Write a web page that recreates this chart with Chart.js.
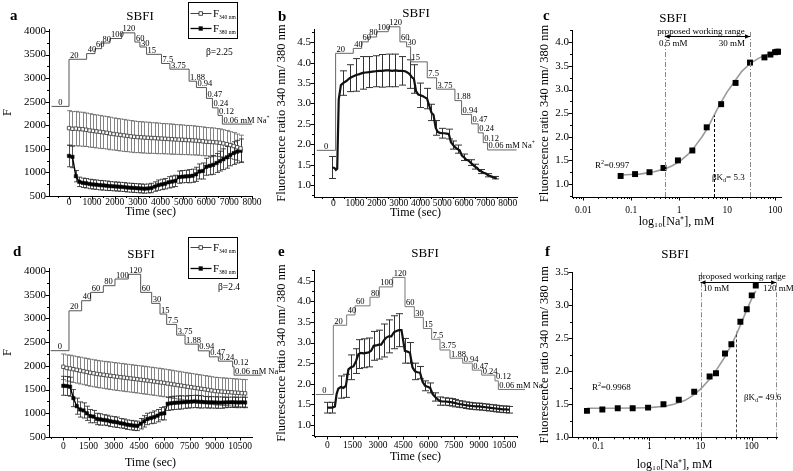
<!DOCTYPE html>
<html><head><meta charset="utf-8">
<script src="https://cdn.jsdelivr.net/npm/chart.js@4.4.1/dist/chart.umd.min.js"></script>
<style>
html,body{margin:0;padding:0;background:#fff;}
body{width:793px;height:471px;overflow:hidden;position:relative;}
canvas{position:absolute;}
.t{position:absolute;font-family:'Liberation Serif','Times New Roman',serif;color:#000;white-space:nowrap;line-height:1;}
.let{font-weight:bold;font-size:15px;}
.sb{font-size:13px;transform:translateX(-50%);}
</style></head><body>
<canvas id="cA"></canvas><canvas id="cB"></canvas><canvas id="cC"></canvas>
<canvas id="cD"></canvas><canvas id="cE"></canvas><canvas id="cF"></canvas>
<div class="t let" style="left:10px;top:8.4px">a</div>
<div class="t let" style="left:278px;top:9.4px">b</div>
<div class="t let" style="left:543px;top:8.4px">c</div>
<div class="t let" style="left:13px;top:244.4px">d</div>
<div class="t let" style="left:278px;top:244.4px">e</div>
<div class="t let" style="left:545px;top:244.4px">f</div>
<div class="t sb" style="left:140px;top:9.1px">SBFI</div>
<div class="t sb" style="left:416px;top:6.1px">SBFI</div>
<div class="t sb" style="left:673px;top:11.1px">SBFI</div>
<div class="t sb" style="left:141px;top:247.1px">SBFI</div>
<div class="t sb" style="left:425px;top:246.1px">SBFI</div>
<div class="t sb" style="left:675px;top:247.1px">SBFI</div>
<script>
// ---------------- DATA ----------------
const stepLabels = ['0','20','40','60','80','100','120','60','30','15','7.5','3.75','1.88','0.94','0.47','0.24','0.12','0.06 mM Na'];

// panel a
const xTicksA = [0,1000,2000,3000,4000,5000,6000,7000,8000];
const yTicksA = [500,1000,1500,2000,2500,3000,3500,4000];
const stepXA = [-760,0,770,1135,1425,1790,2300,2880,3100,3390,4045,4410,5250,5570,6010,6270,6515,6705,8000];
const stepYA = [2400,3400,3520,3625,3745,3840,3960,3765,3660,3505,3310,3190,2935,2800,2570,2370,2210,2025,2025];
const tA = [0,150,300,450,600,750,900,1050,1200,1350,1500,1650,1800,1950,2100,2250,2400,2550,2700,2850,3000,3150,3300,3450,3600,3750,3900,4050,4200,4350,4500,4650,4800,4950,5100,5250,5400,5550,5700,5850,6000,6150,6300,6450,6600,6750,6900,7050,7200,7350,7500];
const f340A = [1940,1925,1930,1920,1915,1905,1890,1880,1870,1860,1850,1840,1825,1815,1805,1795,1785,1775,1765,1755,1750,1745,1740,1735,1730,1728,1722,1718,1714,1710,1705,1700,1697,1693,1688,1684,1680,1675,1668,1660,1652,1648,1643,1637,1628,1615,1600,1580,1560,1535,1510];
const err340A = [370,365,365,360,360,355,355,350,350,350,345,345,345,340,340,340,340,335,335,335,330,330,330,330,325,325,325,320,320,320,320,315,315,315,310,310,310,305,305,305,300,300,300,295,295,290,290,285,285,280,280];
const f380A = [1350,1330,920,800,780,770,755,745,740,730,725,718,710,705,700,695,690,680,675,670,665,660,655,660,670,700,730,745,760,790,805,820,900,910,915,920,930,960,1020,1030,1120,1140,1160,1200,1240,1280,1320,1370,1410,1440,1460];
const err380A = [230,230,120,100,100,100,100,100,100,100,100,100,95,95,95,95,95,95,95,95,95,95,95,95,100,100,110,110,110,120,120,120,130,130,130,140,140,150,160,170,180,190,200,200,210,220,230,230,240,240,250];

// panel b
const xTicksB = [0,1000,2000,3000,4000,5000,6000,7000,8000];
const yTicksB = [1.0,1.5,2.0,2.5,3.0,3.5,4.0,4.5];
const stepXB = [-760,107,917,1300,1606,1988,2523,3058,3364,3547,4312,4740,5581,5887,6346,6651,6881,7080,8410];
const stepYB = [1.85,4.23,4.35,4.51,4.63,4.76,4.88,4.51,4.39,4.02,3.63,3.35,3.07,2.73,2.50,2.28,2.04,1.86,1.86];
const tB = [-50,50,120,180,250,350,450,600,750,900,1050,1200,1350,1500,1650,1800,1950,2100,2250,2400,2550,2700,2850,3000,3150,3300,3400,3500,3600,3700,3800,3900,4000,4100,4200,4300,4400,4500,4600,4700,4800,4900,5000,5100,5200,5300,5400,5500,5600,5700,5800,5900,6000,6100,6200,6300,6400,6500,6600,6700,6800,6900,7000,7100,7200,7300,7400,7500];
const rB = [1.43,1.42,1.37,1.40,3.10,3.45,3.50,3.55,3.62,3.66,3.70,3.72,3.75,3.76,3.77,3.78,3.79,3.80,3.80,3.81,3.81,3.80,3.81,3.80,3.80,3.79,3.76,3.72,3.65,3.60,3.30,3.22,3.20,3.18,3.15,3.12,2.95,2.78,2.72,2.40,2.30,2.28,2.27,2.27,2.26,2.25,2.05,1.98,1.92,1.88,1.85,1.72,1.68,1.62,1.60,1.55,1.50,1.45,1.42,1.35,1.33,1.30,1.28,1.24,1.22,1.20,1.18,1.16];
const errB = [0.27,null,null,null,null,null,0.30,null,0.33,null,0.40,null,0.40,null,0.38,null,0.38,null,0.40,null,0.40,null,0.40,null,0.35,null,null,0.35,null,0.35,null,null,0.30,null,null,0.25,null,0.20,null,0.18,null,null,0.12,null,null,0.12,null,0.10,null,0.10,null,null,0.08,null,null,0.07,null,0.06,null,null,0.05,null,null,0.04,null,null,0.03,null];

// panel c
const xTicksC = [0.01,0.1,1,10,100];
const yTicksC = [1.0,1.5,2.0,2.5,3.0,3.5,4.0];
const naC = [0.06,0.12,0.24,0.47,0.94,1.88,3.75,7.5,15,30,60,80,100,110,120];
const ratioC = [1.17,1.21,1.25,1.34,1.50,1.71,2.20,2.69,3.14,3.57,3.68,3.74,3.79,3.80,3.80];
const fitXC = [0.06,0.1,0.15,0.2,0.3,0.5,0.7,1,1.5,2,3,4,5.3,7,10,15,20,30,45,60,80,100,130];
const fitYC = [1.19,1.20,1.21,1.23,1.26,1.32,1.38,1.47,1.62,1.76,2.00,2.20,2.45,2.68,2.95,3.20,3.38,3.55,3.66,3.72,3.76,3.78,3.80];
const rangeC = [0.5,30];
const kdC = 5.3, kdYC = 2.45;

// panel d
const xTicksD = [0,1500,3000,4500,6000,7500,9000,10500];
const yTicksD = [500,1000,1500,2000,2500,3000,3500,4000];
const stepXD = [-750,337,1090,1624,2377,3070,3863,4596,5250,5745,6141,6735,7232,8023,8677,9212,10060,10145,11790];
const stepYD = [2320,3161,3373,3549,3690,3831,3930,3549,3317,3092,2874,2648,2458,2317,2190,2099,1979,1803,1803];
const tD = [0,200,400,600,800,1000,1200,1400,1600,1800,2000,2200,2400,2600,2800,3000,3200,3400,3600,3800,4000,4200,4400,4600,4800,5000,5200,5400,5600,5800,6000,6200,6400,6600,6800,7000,7200,7400,7600,7800,8000,8200,8400,8600,8800,9000,9200,9400,9600,9800,10000,10200,10400,10600,10800];
const f340D = [1980,1955,1945,1930,1915,1900,1885,1870,1855,1843,1830,1820,1810,1800,1790,1780,1771,1762,1753,1744,1735,1726,1717,1708,1699,1690,1680,1670,1660,1650,1640,1628,1617,1605,1594,1583,1572,1560,1549,1538,1527,1516,1505,1494,1482,1470,1464,1458,1452,1447,1442,1436,1431,1425,1420];
const err340D = [270,275,280,280,280,282,282,285,285,285,285,285,285,288,290,290,290,290,290,290,290,290,290,292,292,292,292,292,292,292,292,292,292,292,292,290,290,290,290,290,290,290,290,290,290,290,290,290,290,290,290,290,290,290,290];
const f380D = [1580,1575,1560,1320,1150,1080,1060,1000,940,930,880,870,860,850,830,820,810,790,780,760,750,740,735,780,830,880,900,920,950,990,1000,1200,1210,1220,1225,1230,1235,1240,1245,1250,1245,1240,1235,1230,1230,1228,1225,1225,1228,1230,1232,1230,1228,1230,1228];
const err380D = [200,200,200,180,170,160,160,150,140,130,120,120,110,110,110,110,110,100,100,100,100,100,100,110,120,120,120,130,130,130,140,140,140,140,140,140,130,130,130,130,130,130,120,120,120,120,120,120,110,110,110,110,110,110,110];

// panel e
const xTicksE = [0,1500,3000,4500,6000,7500,9000,10500];
const yTicksE = [1.0,1.5,2.0,2.5,3.0,3.5,4.0,4.5];
const stepXE = [-692,356,1147,1641,2531,3085,3876,4607,5161,5695,6189,6684,7277,8028,8601,9155,9946,10144,11726];
const stepYE = [1.74,3.42,3.67,3.89,4.10,4.35,4.58,3.87,3.61,3.34,3.08,2.82,2.62,2.50,2.33,2.21,2.07,1.86,1.86];
const tE = [0,150,300,450,550,650,800,950,1100,1250,1400,1550,1700,1850,2000,2150,2300,2450,2600,2750,2900,3050,3200,3350,3500,3650,3800,3950,4100,4250,4400,4500,4600,4750,4900,5050,5200,5350,5500,5650,5800,5950,6100,6250,6400,6550,6700,6850,7000,7200,7400,7600,7800,8000,8200,8400,8600,8800,9000,9200,9400,9600,9800,10000,10200,10400,10600,10800];
const rE = [1.42,1.42,1.42,1.45,1.75,1.88,1.92,1.90,1.95,2.35,2.40,2.42,2.55,2.72,2.75,2.74,2.75,2.76,2.80,2.92,2.93,2.95,2.95,3.05,3.12,3.15,3.15,3.25,3.28,3.30,3.30,3.05,2.80,2.78,2.75,2.40,2.30,2.28,2.27,2.05,1.95,1.93,1.90,1.75,1.68,1.62,1.58,1.57,1.57,1.56,1.55,1.53,1.51,1.50,1.48,1.47,1.46,1.45,1.45,1.44,1.43,1.42,1.41,1.40,1.39,1.38,1.38,1.37];
const errE = [0.13,null,0.13,null,null,null,0.27,null,0.28,null,0.30,null,0.30,0.35,null,0.35,null,0.35,null,0.35,null,0.35,null,0.40,null,0.40,null,0.40,null,0.40,null,null,0.30,null,0.25,null,0.20,null,0.15,null,0.12,null,0.12,null,0.10,null,0.10,null,0.09,0.09,0.09,0.09,0.08,0.08,0.08,0.08,0.08,0.08,0.08,0.08,0.08,0.08,0.08,0.08,0.08,0.08,0.08,0.08];

// panel f
const xTicksF = [0.1,1,10,100];
const yTicksF = [1.0,1.5,2.0,2.5,3.0,3.5];
const naF = [0.06,0.12,0.24,0.47,0.94,1.88,3.75,7.5,15,20,30,40,60,80,100,120];
const ratioF = [1.40,1.42,1.44,1.44,1.45,1.50,1.57,1.69,1.92,1.97,2.27,2.41,2.75,2.94,3.15,3.30];
const fitXF = [0.06,0.1,0.2,0.5,1,2,3,5,7,10,15,20,30,40,49.6,60,80,100,120];
const fitYF = [1.44,1.44,1.44,1.445,1.45,1.47,1.50,1.56,1.63,1.73,1.88,2.01,2.22,2.40,2.55,2.70,2.93,3.10,3.22];
const rangeF = [10,300];
const kdF = 49.6, kdYF = 2.6;

// ---------------- RENDERING ----------------
const FF = "'Liberation Serif','Times New Roman',serif";
const XTICK = 9.5, YTICK = 11, XTITLE = 12, YTITLE = 12.5;
const pts = (xs, ys) => xs.map((x, i) => ({x, y: ys[i]}));

function drawRich(ctx, x, y, parts, base, align) {
  let w = 0;
  for (const p of parts) { ctx.font = (p.size || base) + 'px ' + FF; w += ctx.measureText(p.t).width; }
  let cx = align === 'center' ? x - w / 2 : align === 'right' ? x - w : x;
  ctx.textAlign = 'left'; ctx.textBaseline = 'alphabetic';
  for (const p of parts) {
    ctx.font = (p.size || base) + 'px ' + FF;
    ctx.fillText(p.t, cx, y + (p.dy || 0));
    cx += ctx.measureText(p.t).width;
  }
}

const errBars = {
  id: 'errBars',
  beforeDatasetsDraw(chart) {
    const ctx = chart.ctx, xs = chart.scales.x, ys = chart.scales.y;
    chart.data.datasets.forEach(ds => {
      if (!ds.errors) return;
      ctx.save(); ctx.strokeStyle = ds.errColor || '#000'; ctx.lineWidth = ds.errWidth || 1;
      ds.data.forEach((p, i) => {
        const e = ds.errors[i]; if (e == null) return;
        const x = Math.round(xs.getPixelForValue(p.x)) + 0.5;
        const y1 = ys.getPixelForValue(p.y + e), y2 = ys.getPixelForValue(p.y - e), c = ds.errCap || 3;
        ctx.beginPath();
        ctx.moveTo(x, y1); ctx.lineTo(x, y2);
        ctx.moveTo(x - c, y1); ctx.lineTo(x + c, y1);
        ctx.moveTo(x - c, y2); ctx.lineTo(x + c, y2);
        ctx.stroke();
      });
      ctx.restore();
    });
  }
};

const stepLbl = {
  id: 'stepLbl',
  afterDatasetsDraw(chart) {
    const ctx = chart.ctx, xs = chart.scales.x, ys = chart.scales.y;
    chart.data.datasets.forEach(ds => {
      if (!ds.stepLabels) return;
      ctx.save(); ctx.fillStyle = '#000';
      const n = ds.stepLabels.length;
      ds.stepLabels.forEach((lab, i) => {
        const x0 = xs.getPixelForValue(ds.data[i].x), x1 = xs.getPixelForValue(ds.data[i + 1].x);
        const y = ys.getPixelForValue(ds.data[i].y) - 1.5;
        if (i === 0) drawRich(ctx, (x0 + x1) / 2, y, [{t: lab}], 8.5, 'center');
        else if (i === n - 1) drawRich(ctx, x0 + 1, y, [{t: lab}, {t: '+', size: 5.5, dy: -4}], 8.5, 'left');
        else drawRich(ctx, x0 + 1, y, [{t: lab}], 8.5, 'left');
      });
      ctx.restore();
    });
  }
};

function minorValues(s) {
  const vals = s.ticks.map(t => t.value), out = [];
  if (s.type === 'logarithmic') {
    for (let d = Math.floor(Math.log10(s.min)); d <= Math.ceil(Math.log10(s.max)); d++)
      for (let k = 2; k <= 9; k++) { const v = k * Math.pow(10, d); if (v >= s.min && v <= s.max) out.push(v); }
  } else {
    const step = vals[1] - vals[0];
    for (let v = vals[0] - step / 2; v <= s.max; v += step) if (v >= s.min) out.push(v);
  }
  return out;
}

const tickMarks = {
  id: 'tickMarks',
  afterDraw(chart) {
    const ctx = chart.ctx, ca = chart.chartArea, xs = chart.scales.x, ys = chart.scales.y;
    ctx.save(); ctx.strokeStyle = '#000'; ctx.lineWidth = 1;
    const dx = (v, len) => { const p = Math.round(xs.getPixelForValue(v)) + 0.5; ctx.beginPath(); ctx.moveTo(p, ca.bottom); ctx.lineTo(p, ca.bottom + len); ctx.stroke(); };
    const dy = (v, len) => { const p = Math.round(ys.getPixelForValue(v)) + 0.5; ctx.beginPath(); ctx.moveTo(ca.left, p); ctx.lineTo(ca.left - len, p); ctx.stroke(); };
    xs.ticks.forEach(t => dx(t.value, 3.5)); minorValues(xs).forEach(v => dx(v, 2));
    ys.ticks.forEach(t => dy(t.value, 3.5)); minorValues(ys).forEach(v => dy(v, 2));
    ctx.restore();
  }
};

function makeAnnot(items, off) {
  return {
    id: 'annot',
    afterDatasetsDraw(chart) {
      const ctx = chart.ctx, xs = chart.scales.x, ys = chart.scales.y;
      const X = (it, v) => it.page ? v - off[0] : xs.getPixelForValue(v);
      const Y = (it, v) => it.page ? v - off[1] : ys.getPixelForValue(v);
      for (const it of items) {
        ctx.save();
        ctx.strokeStyle = it.color || '#000'; ctx.fillStyle = it.color || '#000'; ctx.lineWidth = it.width || 1;
        if (it.k === 'vline') {
          const x = Math.round(X(it, it.x)) + 0.5;
          ctx.setLineDash(it.dash || []);
          ctx.beginPath(); ctx.moveTo(x, Y(it, it.y0)); ctx.lineTo(x, Y(it, it.y1)); ctx.stroke();
        } else if (it.k === 'arrow') {
          const x0 = X(it, it.x0), x1 = X(it, it.x1), y = Math.round(Y(it, it.y)) + 0.5;
          ctx.beginPath(); ctx.moveTo(x0, y); ctx.lineTo(x1, y); ctx.stroke();
          ctx.beginPath(); ctx.moveTo(x0, y); ctx.lineTo(x0 + 5, y - 2.2); ctx.lineTo(x0 + 5, y + 2.2); ctx.closePath(); ctx.fill();
          ctx.beginPath(); ctx.moveTo(x1, y); ctx.lineTo(x1 - 5, y - 2.2); ctx.lineTo(x1 - 5, y + 2.2); ctx.closePath(); ctx.fill();
        } else if (it.k === 'text') {
          drawRich(ctx, X(it, it.x), Y(it, it.y), it.parts, it.size, it.align || 'left');
        } else if (it.k === 'legend') {
          const x = Math.round(X(it, it.x)) + 0.5, y = Math.round(Y(it, it.y)) + 0.5;
          ctx.strokeRect(x, y, it.w, it.h);
          for (const r of it.rows) {
            const ry = Math.round(Y(it, r.y)) + 0.5;
            ctx.strokeStyle = r.fill ? '#000' : '#444'; ctx.lineWidth = r.fill ? 1.3 : 1;
            ctx.beginPath(); ctx.moveTo(x + 2, ry); ctx.lineTo(x + 23, ry); ctx.stroke();
            ctx.fillStyle = r.fill ? '#000' : '#fff'; ctx.fillRect(x + 10.5, ry - 1.75, 3.5, 3.5);
            ctx.lineWidth = 0.8; ctx.strokeStyle = '#222'; ctx.strokeRect(x + 10.5, ry - 1.75, 3.5, 3.5);
            ctx.fillStyle = '#000';
            drawRich(ctx, x + 24.5, ry + 3.5, [{t: 'F', size: 11}, {t: r.sub, size: 5.5, dy: 2}], 11, 'left');
          }
        }
        ctx.restore();
      }
    }
  };
}

function makeChart(P) {
  const cv = document.getElementById(P.id);
  const [cx, cy, cw, ch] = P.canvas;
  cv.width = cw; cv.height = ch; cv.style.left = cx + 'px'; cv.style.top = cy + 'px';
  const [L, T, R, B] = P.plot;
  const ylh = YTITLE * 1.2, xlh = XTITLE * 1.2, klh = XTICK * 1.2;
  const YL = Math.max(cx, P.yTitleX - ylh / 2);
  const yW = L - YL;
  const xH = P.xTitleY + xlh / 2 - B;
  const pad = {left: YL - cx, top: T - cy, right: cx + cw - R, bottom: cy + ch - B - xH};
  const xPad = P.xLabY - B - klh / 2;
  const axis = (a, isX) => ({
    type: a.type || 'linear', bounds: 'data', min: a.min, max: a.max, position: isX ? 'bottom' : 'left',
    grid: {display: false, drawTicks: false},
    border: {display: true, color: '#000', width: 1},
    ticks: {autoSkip: false, maxRotation: 0, minRotation: 0, padding: isX ? xPad : P.yPad, color: '#000',
      font: {family: FF, size: isX ? XTICK : YTICK}, callback: v => a.fmt(v)},
    title: {display: true, text: a.title, color: '#000', font: {family: FF, size: isX ? XTITLE : YTITLE}, padding: 0},
    afterBuildTicks: s => { s.ticks = a.ticks.map(v => ({value: v})); },
    afterFit: s => { if (isX) s.height = xH; else s.width = yW; }
  });
  return new Chart(cv, {
    type: 'line',
    data: {datasets: P.datasets},
    options: {
      responsive: false, animation: false, devicePixelRatio: 1,
      layout: {padding: pad},
      plugins: {legend: {display: false}, tooltip: {enabled: false}},
      scales: {x: axis(P.x, true), y: axis(P.y, false)}
    },
    plugins: [errBars, stepLbl, tickMarks, makeAnnot(P.items || [], [cx, cy])]
  });
}

const intFmt = v => String(v);
const dec1 = v => v.toFixed(1);
const logFmt = v => String(v);

const stepDs = (xs, ys, color) => ({data: pts(xs, ys), stepped: 'before', borderColor: color, borderWidth: 1,
  pointRadius: 0, clip: false, stepLabels: stepLabels});
const f340Ds = (xs, ys, er) => ({data: pts(xs, ys), borderColor: '#444', borderWidth: 1, pointStyle: 'rect',
  pointRadius: 2.4, pointBackgroundColor: '#fff', pointBorderColor: '#333', pointBorderWidth: 0.8,
  errors: er, errColor: '#666', errCap: 2.5, errWidth: 0.8});
const f380Ds = (xs, ys, er) => ({data: pts(xs, ys), borderColor: '#000', borderWidth: 1.4, pointStyle: 'rect',
  pointRadius: 2.4, pointBackgroundColor: '#000', pointBorderColor: '#000', pointBorderWidth: 0.5,
  errors: er, errColor: '#222', errCap: 2.5, errWidth: 0.8});
const ratioDs = (xs, ys, er) => ({data: pts(xs, ys), borderColor: '#111', borderWidth: 2.2, pointRadius: 0,
  errors: er, errColor: '#333', errCap: 3.5, errWidth: 1});
const dotsDs = (xs, ys) => ({data: pts(xs, ys), showLine: false, pointStyle: 'rect', pointRadius: 4.2,
  pointBackgroundColor: '#000', pointBorderColor: '#000', pointBorderWidth: 0});
const fitDs = (xs, ys) => ({data: pts(xs, ys), borderColor: '#9a9a9a', borderWidth: 1.6, pointRadius: 0});

makeChart({id: 'cA', canvas: [0, 0, 275, 235], plot: [49, 29, 252, 196], yTitleX: 6, xTitleY: 212, xLabY: 202, yPad: 3,
  x: {min: -875, max: 8000, ticks: xTicksA, fmt: intFmt, title: 'Time (sec)'},
  y: {min: 500, max: 4042, ticks: yTicksA, fmt: intFmt, title: 'F'},
  datasets: [f340Ds(tA, f340A, err340A), f380Ds(tA, f380A, err380A), stepDs(stepXA, stepYA, '#555')],
  items: [
    {k: 'legend', page: true, x: 188, y: 2, w: 49, h: 36, rows: [{y: 13, fill: false, sub: '340 nm'}, {y: 28, fill: true, sub: '380 nm'}]},
    {k: 'text', page: true, x: 206, y: 55, parts: [{t: 'β=2.25'}], size: 9.5}
  ]});

makeChart({id: 'cB', canvas: [268, 0, 275, 235], plot: [314, 29, 517, 197], yTitleX: 282, xTitleY: 213, xLabY: 203, yPad: 3,
  x: {min: -885, max: 8430, ticks: xTicksB, fmt: intFmt, title: 'Time (sec)'},
  y: {min: 0.706, max: 4.826, ticks: yTicksB, fmt: dec1, title: 'Fluorescence ratio 340 nm/ 380 nm'},
  datasets: [ratioDs(tB, rB, errB), stepDs(stepXB, stepYB, '#666')]});

makeChart({id: 'cC', canvas: [533, 0, 260, 235], plot: [572, 30, 781, 197], yTitleX: 545, xTitleY: 221.7, xLabY: 210, yPad: 3,
  x: {type: 'logarithmic', min: 0.0058, max: 133, ticks: xTicksC, fmt: logFmt, title: 'log₁₀[Na⁺], mM'},
  y: {min: 0.725, max: 4.26, ticks: yTicksC, fmt: dec1, title: 'Fluorescence ratio 340 nm/ 380 nm'},
  datasets: [dotsDs(naC, ratioC), fitDs(fitXC, fitYC)],
  items: [
    {k: 'vline', x: rangeC[0], y0: 0.725, y1: 4.22, dash: [5, 2, 1, 2], color: '#888'},
    {k: 'vline', x: rangeC[1], y0: 0.725, y1: 4.22, dash: [5, 2, 1, 2], color: '#888'},
    {k: 'vline', x: kdC, y0: 0.725, y1: kdYC, dash: [3, 2], color: '#000'},
    {k: 'arrow', x0: rangeC[0], x1: rangeC[1], y: 4.13},
    {k: 'text', page: true, x: 701, y: 34, parts: [{t: 'proposed working range'}], size: 9, align: 'center'},
    {k: 'text', page: true, x: 659, y: 46, parts: [{t: '0.5 mM'}], size: 9},
    {k: 'text', page: true, x: 745, y: 46, parts: [{t: '30 mM'}], size: 9, align: 'right'},
    {k: 'text', page: true, x: 595, y: 168, parts: [{t: 'R'}, {t: '2', size: 6, dy: -4}, {t: '=0.997'}], size: 9},
    {k: 'text', page: true, x: 712, y: 180, parts: [{t: 'βK'}, {t: 'd', size: 6, dy: 2}, {t: '= 5.3'}], size: 9}
  ]});

makeChart({id: 'cD', canvas: [0, 235, 290, 240], plot: [49, 268, 252, 437], yTitleX: 6, xTitleY: 463, xLabY: 446.7, yPad: 3,
  x: {min: -850, max: 11210, ticks: xTicksD, fmt: intFmt, title: 'Time (sec)'},
  y: {min: 500, max: 4063, ticks: yTicksD, fmt: intFmt, title: 'F'},
  datasets: [f340Ds(tD, f340D, err340D), f380Ds(tD, f380D, err380D), stepDs(stepXD, stepYD, '#555')],
  items: [
    {k: 'legend', page: true, x: 188, y: 237, w: 49, h: 41, rows: [{y: 247, fill: false, sub: '340 nm'}, {y: 268, fill: true, sub: '380 nm'}]},
    {k: 'text', page: true, x: 218, y: 290, parts: [{t: 'β=2.4'}], size: 9.5}
  ]});

makeChart({id: 'cE', canvas: [268, 235, 275, 240], plot: [314, 270, 517, 436], yTitleX: 282, xTitleY: 456.7, xLabY: 445, yPad: 3,
  x: {min: -790, max: 11250, ticks: xTicksE, fmt: intFmt, title: 'Time (sec)'},
  y: {min: 0.733, max: 4.76, ticks: yTicksE, fmt: dec1, title: 'Fluorescence ratio 340 nm/ 380 nm'},
  datasets: [ratioDs(tE, rE, errE), stepDs(stepXE, stepYE, '#777')]});

makeChart({id: 'cF', canvas: [533, 235, 260, 240], plot: [572, 272.3, 777, 437.3], yTitleX: 545, xTitleY: 465, xLabY: 446.7, yPad: 3,
  x: {type: 'logarithmic', min: 0.0306, max: 312, ticks: xTicksF, fmt: logFmt, title: 'log₁₀[Na⁺], mM'},
  y: {min: 1.0, max: 3.5, ticks: yTicksF, fmt: dec1, title: 'Fluorescence ratio 340 nm/ 380 nm'},
  datasets: [dotsDs(naF, ratioF), fitDs(fitXF, fitYF)],
  items: [
    {k: 'vline', x: rangeF[0], y0: 1.0, y1: 3.5, dash: [5, 2, 1, 2], color: '#888'},
    {k: 'vline', x: rangeF[1], y0: 1.0, y1: 3.5, dash: [5, 2, 1, 2], color: '#888'},
    {k: 'vline', x: kdF, y0: 1.0, y1: kdYF, dash: [3, 2], color: '#444'},
    {k: 'arrow', x0: rangeF[0], x1: rangeF[1], y: 3.36},
    {k: 'text', page: true, x: 742, y: 279, parts: [{t: 'proposed working range'}], size: 9, align: 'center'},
    {k: 'text', page: true, x: 703, y: 291, parts: [{t: '10 mM'}], size: 9},
    {k: 'text', page: true, x: 763, y: 291, parts: [{t: '120 mM'}], size: 9},
    {k: 'text', page: true, x: 592, y: 390, parts: [{t: 'R'}, {t: '2', size: 6, dy: -4}, {t: '=0.9968'}], size: 9},
    {k: 'text', page: true, x: 744, y: 400, parts: [{t: 'βK'}, {t: 'd', size: 6, dy: 2}, {t: '= 49.6'}], size: 9}
  ]});
</script>
</body></html>
